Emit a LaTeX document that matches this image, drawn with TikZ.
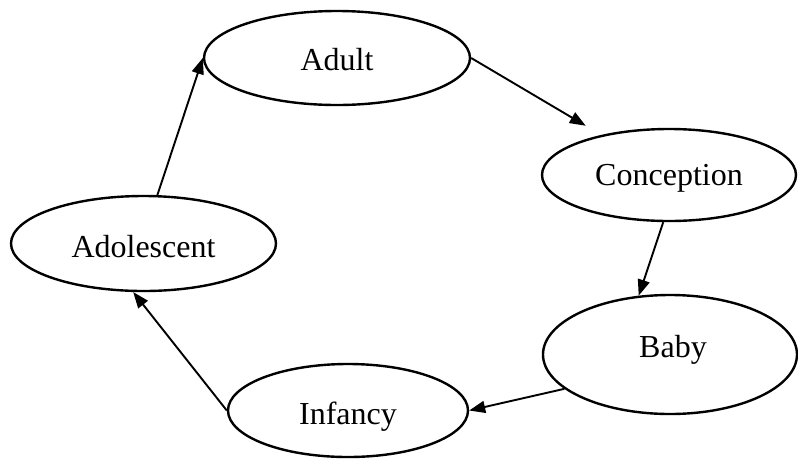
\documentclass[tikz,border=0pt]{standalone}
\usepackage{fontspec}
\setmainfont{Liberation Serif}
\usetikzlibrary{shapes.geometric,arrows.meta}

\tikzset{
  stage/.style={ellipse, draw=black, line width=2.4pt, inner sep=0pt},
  stagetext/.style={anchor=base, font=\fontsize{32}{32}\selectfont},
  flow/.style={line width=1.9pt, -{Triangle[length=16pt,width=12pt]}}
}

\begin{document}
\begin{tikzpicture}[x=1pt, y=-1pt]
  \useasboundingbox[fill=white] (0,0) rectangle (798,459);

  % life-cycle stages
  \node[stage, minimum width=266pt, minimum height=94pt,
        label={[stagetext, yshift=-2pt]center:Adult}] (adult) at (337,58) {};
  \node[stage, minimum width=254pt, minimum height=92pt,
        label={[stagetext, yshift=-3pt]center:Conception}] (concept) at (669,175) {};
  \node[stage, minimum width=254pt, minimum height=119pt,
        label={[stagetext, yshift=4.5pt, xshift=3pt]center:Baby}] (baby) at (670,354.5) {};
  \node[stage, minimum width=240pt, minimum height=93pt,
        label={[stagetext, yshift=-6.5pt]center:Infancy}] (infancy) at (348,410.5) {};
  \node[stage, minimum width=265pt, minimum height=95pt,
        label={[stagetext, yshift=-3.5pt]center:Adolescent}] (adol) at (143.5,243.5) {};

  % cycle arrows
  \draw[flow] (adol.74) -- (adult.west);
  \draw[flow, shorten >=18pt] (adult.east) -- (concept);
  \draw[flow] (concept.263) -- (baby.118);
  \draw[flow] (baby.198) -- (infancy.east);
  \draw[flow] (infancy.west) -- (adol.258);
\end{tikzpicture}
\end{document}
